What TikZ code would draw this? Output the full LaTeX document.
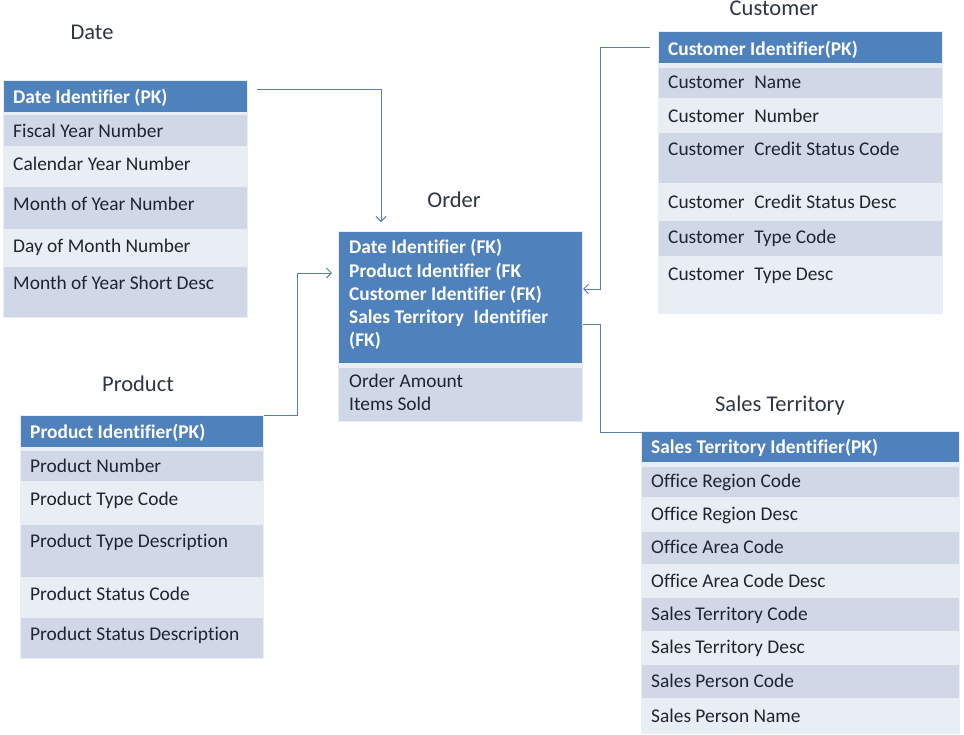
\documentclass[tikz,border=0pt]{standalone}
\usepackage{fontspec}
\setmainfont{Carlito}[Ligatures=NoCommon]
\usetikzlibrary{arrows.meta}
\definecolor{hdr}{HTML}{4F81BD}
\definecolor{drow}{HTML}{D0D8E8}
\definecolor{lrow}{HTML}{E9EDF4}
\definecolor{conn}{HTML}{5A7DB0}
\definecolor{ttl}{HTML}{2E3545}
\definecolor{ftxt}{HTML}{1E2530}
\begin{document}
\begin{tikzpicture}[x=1pt,y=-1pt,
  field/.style={anchor=base west, inner sep=0pt, font=\fontsize{19.4}{21}\selectfont, text=ftxt},
  keyf/.style={anchor=base west, inner sep=0pt, font=\bfseries\fontsize{19.4}{21}\selectfont, text=white},
  ttlf/.style={anchor=base, inner sep=0pt, font=\fontsize{22.5}{25}\selectfont, text=ttl},
  link/.style={draw=conn, line width=1pt},
  arr/.style={-{Straight Barb[length=5pt,width=10pt,line width=1pt]}}]
\useasboundingbox[fill=white] (0,0) rectangle (964,734);

% ---------- Date ----------
\fill[lrow] (3,80) rectangle (248,318);
\fill[hdr] (4,81) rectangle (247,112);
\foreach \a/\b/\c in {115/146/drow,146/187/lrow,187/229/drow,229/267/lrow,267/317/drow}
  \fill[\c] (4,\a) rectangle (247,\b);
\node[ttlf] (tDate) at (92,39) {Date};
\node[keyf] (dateK) at (13,103) {Date Identifier (PK)};
\foreach \y/\t [count=\i] in {137/Fiscal Year Number,170/Calendar Year Number,210/Month of Year Number,252/Day of Month Number,289/Month of Year Short\ Desc}
  \node[field] (date\i) at (13,\y) {\t};

% ---------- Customer ----------
\fill[lrow] (658,31) rectangle (943,314);
\fill[hdr] (659,32) rectangle (942,63);
\foreach \a/\b/\c in {68/98/drow,98/133/lrow,133/183/drow,183/221/lrow,221/256/drow,256/313/lrow}
  \fill[\c] (659,\a) rectangle (942,\b);
\node[ttlf] (tCust) at (774,15) {Customer};
\node[keyf] (custK) at (668,55) {Customer Identifier(PK)};
\foreach \y/\t [count=\i] in {88/Name,122/Number,155/Credit Status Code,208/Credit Status Desc,243/Type Code,280/Type Desc}
  \node[field] (cust\i) at (668,\y) {Customer\enspace\t};

% ---------- Order ----------
\fill[lrow] (338,231) rectangle (583,422);
\fill[hdr] (339,232) rectangle (582,363);
\fill[drow] (339,368) rectangle (582,421);
\node[ttlf] (tOrder) at (454,207) {Order};
\node[keyf] (ordK1) at (349,253) {Date Identifier (FK)};
\node[keyf] (ordK2) at (349,277) {Product Identifier (FK};
\node[keyf] (ordK3) at (349,300) {Customer Identifier (FK)};
\node[keyf] (ordK4) at (349,323) {Sales Territory\enspace Identifier};
\node[keyf] (ordK5) at (349,346) {(FK)};
\node[field] (ord1) at (349,387) {Order Amount};
\node[field] (ord2) at (349,410) {Items Sold};

% ---------- Product ----------
\fill[lrow] (20,415) rectangle (264,659);
\fill[hdr] (21,416) rectangle (263,447);
\foreach \a/\b/\c in {451/481/drow,481/525/lrow,525/577/drow,577/618/lrow,618/658/drow}
  \fill[\c] (21,\a) rectangle (263,\b);
\node[ttlf] (tProd) at (138,391) {Product};
\node[keyf] (prodK) at (30,438) {Product Identifier(PK)};
\foreach \y/\t [count=\i] in {472/Product Number,505/Product Type Code,547/Product Type Description,600/Product Status Code,640/Product Status Description}
  \node[field] (prod\i) at (30,\y) {\t};

% ---------- Sales Territory ----------
\fill[lrow] (641,431) rectangle (960,734);
\fill[hdr] (642,432) rectangle (959,462);
\foreach \a/\b/\c in {467/497/drow,497/532/lrow,532/564/drow,564/598/lrow,598/631/drow,631/665/lrow,665/698/drow,698/733/lrow}
  \fill[\c] (642,\a) rectangle (959,\b);
\node[ttlf] (tSales) at (780,411) {Sales Territory};
\node[keyf] (salesK) at (651,453) {Sales Territory Identifier(PK)};
\foreach \y/\t [count=\i] in {487/Office Region Code,520/Office Region Desc,553/Office Area Code,587/Office Area Code Desc,620/Sales Territory Code,653/Sales Territory Desc,687/Sales Person Code,722/Sales Person Name}
  \node[field] (sales\i) at (651,\y) {\t};

% ---------- Connectors ----------
\coordinate (dOut) at (257,89);
\coordinate (oTop) at (381,222);
\coordinate (pOut) at (264,415);
\coordinate (oLeft) at (332,273);
\coordinate (cOut) at (650,47);
\coordinate (oRight) at (583,289);
\coordinate (oOut) at (583,324);
\coordinate (sIn) at (642,432);
\draw[link,arr] (dOut) -| (oTop);
\draw[link,arr] (pOut) -- (297,415) |- (oLeft);
\draw[link,arr] (cOut) -- (600,47) |- (oRight);
\draw[link] (oOut) -- (600,324) |- (sIn);
\end{tikzpicture}
\end{document}
